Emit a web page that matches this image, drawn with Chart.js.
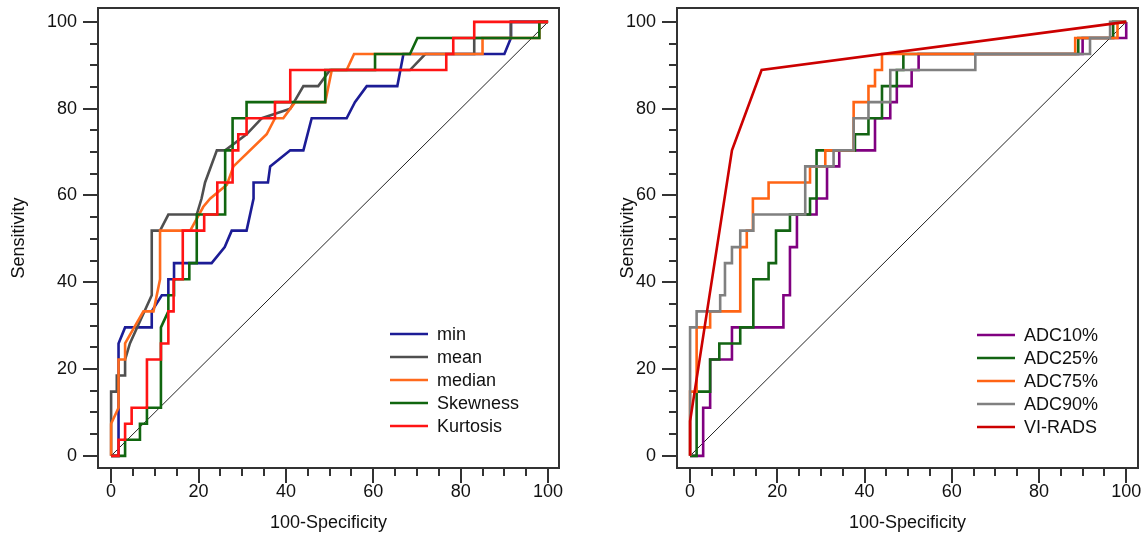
<!DOCTYPE html>
<html>
<head>
<meta charset="utf-8">
<script src="https://cdn.jsdelivr.net/npm/chart.js@4.4.1/dist/chart.umd.min.js"></script>
<style>
  body { margin: 0; background: #fff; }
  .panel { position: absolute; top: 0; width: 573px; height: 540px; }
</style>
</head>
<body>
<div class="panel" style="left:0"><canvas id="rocIzq" width="573" height="540"></canvas></div>
<div class="panel" style="left:573px"><canvas id="rocDer" width="573" height="540"></canvas></div>
<script>
// etiquetas de los ejes
const etiquetasEje = [0, 20, 40, 60, 80, 100];
const marcasMenores = [5, 10, 15, 25, 30, 35, 45, 50, 55, 65, 70, 75, 85, 90, 95];
const diagonal = [[0, 0], [100, 100]];

// panel izquierdo: [100-especificidad, sensibilidad]
const nombresIzq = ['min', 'mean', 'median', 'Skewness', 'Kurtosis'];
const coloresIzq = ['#1c1c96', '#4f4f4f', '#ff6a1c', '#10660f', '#ff1414'];
const rocMin = [[0,0],[1.7,0],[1.7,25.9],[3.2,29.6],[9.3,29.6],[9.3,33.3],[11.6,37],[13.1,37],[13.1,40.7],[14.4,40.7],[14.4,44.4],[23,44.4],[26,48.1],[27.6,51.9],[31,51.9],[32.6,59.3],[32.6,63],[35.9,63],[36.4,66.7],[41,70.4],[44,70.4],[45.9,77.8],[53.9,77.8],[55.8,81.5],[58.5,85.2],[65.5,85.2],[66.9,92.6],[90,92.6],[91.5,96.3],[91.5,100],[100,100]];
const rocMean = [[0,0],[0,14.8],[1.3,14.8],[1.3,18.5],[3.2,18.5],[3.2,22.2],[4.3,25.9],[9.3,37],[9.3,51.9],[11.2,51.9],[13.1,55.6],[19.6,55.6],[20.7,59.3],[21.5,63],[24.2,70.4],[26.1,70.4],[31,74.1],[34.5,77.8],[41,80],[42.5,82.6],[44,85.2],[47.4,85.2],[50.1,88.9],[68.4,88.9],[71.9,92.6],[83.1,92.6],[83.1,96.3],[91.5,96.3],[91.5,100],[100,100]];
const rocMedian = [[0,0],[0,7.4],[1.7,11.1],[1.7,22.2],[3.2,22.2],[3.2,25.9],[7.4,33.3],[9.7,33.3],[11.2,40.7],[11.2,51.9],[18.1,51.9],[21.1,57.4],[22.7,59.3],[26.5,62.5],[28,66.7],[35.6,74.1],[37.5,77.8],[39.4,77.8],[42.1,81.5],[49,81.5],[50.5,88.9],[53.9,88.9],[55.6,92.6],[85,92.6],[85,96.3],[98,96.3],[98,100],[100,100]];
const rocSkew = [[0,0],[3.2,0],[3.2,3.7],[6.6,3.7],[6.6,7.4],[8.2,7.4],[8.2,11.1],[11.4,11.1],[11.4,29.6],[13.1,33.3],[13.1,37],[14.4,37],[14.4,40.7],[17.9,40.7],[17.9,44.4],[19.6,44.4],[19.6,55.6],[26.1,55.6],[26.1,70.4],[27.8,70.4],[27.8,77.8],[31,77.8],[31,81.5],[49,81.5],[49,88.9],[60.4,88.9],[60.4,92.6],[68.4,92.6],[70.1,96.3],[98,96.3],[98,100],[100,100]];
const rocKurt = [[0,0],[1.7,0],[1.7,3.7],[3.2,3.7],[3.2,7.4],[4.7,7.4],[4.7,11.1],[8.2,11.1],[8.2,22.2],[11.4,22.2],[11.4,25.9],[13.1,25.9],[13.1,33.3],[14.3,33.3],[14.3,40.7],[16.4,40.7],[16.4,51.9],[21.3,51.9],[21.3,55.6],[24.3,55.6],[24.3,63],[27.8,63],[27.8,70.4],[29.1,70.4],[29.1,74.1],[31,74.1],[31,77.8],[37.5,77.8],[37.5,81.5],[41,81.5],[41,88.9],[76.7,88.9],[76.7,92.6],[78.3,92.6],[78.3,96.3],[83.1,96.3],[83.1,100],[100,100]];

// panel derecho
const nombresDer = ['ADC10%', 'ADC25%', 'ADC75%', 'ADC90%', 'VI-RADS'];
const coloresDer = ['#800080', '#136413', '#ff6414', '#808080', '#cc0000'];
const rocAdc10 = [[0,0],[3,0],[3,11.1],[4.6,11.1],[4.6,22.2],[9.6,22.2],[9.6,29.6],[21.4,29.6],[21.4,37],[22.9,37],[22.9,48.1],[24.5,48.1],[24.5,55.6],[29,55.6],[29,59.3],[31.4,59.3],[31.4,66.7],[34.2,66.7],[34.2,70.4],[42.4,70.4],[42.4,77.8],[45.9,77.8],[45.9,81.5],[47.4,81.5],[47.4,85.2],[50.8,85.2],[50.8,88.9],[52.4,88.9],[52.4,92.6],[90,92.6],[90,96.3],[100,96.3],[100,100]];
const rocAdc25 = [[0,0],[1.5,0],[1.5,14.8],[4.6,14.8],[4.6,22.2],[6.7,22.2],[6.7,25.9],[11.5,25.9],[11.5,29.6],[14.5,29.6],[14.5,40.7],[18,40.7],[18,44.4],[19.7,44.4],[19.7,51.9],[22.9,51.9],[22.9,55.6],[27.5,55.6],[27.5,59.3],[29,59.3],[29,70.4],[37.8,70.4],[37.8,74.1],[40.9,74.1],[40.9,77.8],[44,77.8],[44,85.2],[47.4,85.2],[47.4,88.9],[48.9,88.9],[48.9,92.6],[89,92.6],[89,96.3],[97,96.3],[97,100],[100,100]];
const rocAdc75 = [[0,0],[0,14.8],[1.5,14.8],[1.5,29.6],[4.6,29.6],[4.6,33.3],[11.5,33.3],[11.5,48.1],[13,48.1],[13,51.9],[14.4,51.9],[14.4,59.3],[18,59.3],[18,63],[27.5,63],[27.5,66.7],[31,66.7],[31,70.4],[37.5,70.4],[37.5,81.5],[40.9,81.5],[40.9,85.2],[42.4,85.2],[42.4,88.9],[44,88.9],[44,92.6],[88.3,92.6],[88.3,96.3],[98,96.3],[98,100],[100,100]];
const rocAdc90 = [[0,0],[0,29.6],[1.5,29.6],[1.5,33.3],[6.9,33.3],[6.9,37],[8,37],[8,44.4],[9.6,44.4],[9.6,48.1],[11.5,48.1],[11.5,51.9],[14.5,51.9],[14.5,55.6],[26.4,55.6],[26.4,66.7],[32.9,66.7],[32.9,70.4],[37.5,70.4],[37.5,77.8],[40.9,77.8],[40.9,81.5],[45.9,81.5],[45.9,88.9],[65.4,88.9],[65.4,92.6],[91.7,92.6],[91.7,96.3],[96.3,96.3],[96.3,100],[100,100]];
const rocViRads = [[0,0],[0,8],[9.6,70.4],[16.4,88.9],[100,100]];

const fuente = '"Liberation Sans", Arial, sans-serif';

// marco, marcas de los ejes y leyenda
const marcoPlugin = {
  id: 'marco',
  afterDraw(chart, args, opts) {
    const { ctx, chartArea: a, scales: { x, y } } = chart;
    ctx.save();
    ctx.strokeStyle = '#333';
    ctx.lineWidth = 2;
    ctx.strokeRect(a.left, a.top, a.right - a.left, a.bottom - a.top);
    const todas = etiquetasEje.concat(marcasMenores);
    ctx.beginPath();
    todas.forEach(v => {
      const largo = etiquetasEje.includes(v) ? 14 : 7;
      const px = Math.round(x.getPixelForValue(v));
      ctx.moveTo(px, a.bottom + 1);
      ctx.lineTo(px, a.bottom + 1 + largo);
      const py = Math.round(y.getPixelForValue(v));
      ctx.moveTo(a.left - 1, py);
      ctx.lineTo(a.left - 1 - largo, py);
    });
    ctx.stroke();

    // leyenda
    ctx.font = '18px ' + fuente;
    ctx.textBaseline = 'middle';
    ctx.fillStyle = '#111';
    opts.nombres.forEach((n, i) => {
      const yy = opts.y + i * 23;
      ctx.strokeStyle = opts.colores[i];
      ctx.lineWidth = 2.5;
      ctx.beginPath();
      ctx.moveTo(opts.x, yy);
      ctx.lineTo(opts.x + 38, yy);
      ctx.stroke();
      ctx.fillText(n, opts.x + 47, yy + 1);
    });
    ctx.restore();
  }
};

function crearGrafico(id, series, nombres, colores, medidas) {
  const ctx = document.getElementById(id).getContext('2d');
  const datasets = series.map((s, i) => ({
    label: nombres[i],
    data: s.map(p => ({ x: p[0], y: p[1] })),
    borderColor: colores[i],
    borderWidth: 2.6,
    pointRadius: 0,
    tension: 0,
    order: series.length - i
  }));
  datasets.push({
    label: 'ref',
    data: diagonal.map(p => ({ x: p[0], y: p[1] })),
    borderColor: '#222',
    borderWidth: 1,
    pointRadius: 0,
    order: 99
  });

  const fijarTicks = s => { s.ticks = etiquetasEje.map(v => ({ value: v })); };

  return new Chart(ctx, {
    type: 'line',
    data: { datasets },
    options: {
      responsive: false,
      animation: false,
      layout: { padding: { top: 8, right: medidas.derecha, left: medidas.izquierda, bottom: 0 } },
      plugins: {
        legend: { display: false },
        tooltip: { enabled: false },
        marco: { nombres, colores, x: medidas.leyX, y: medidas.leyY }
      },
      scales: {
        x: {
          type: 'linear',
          min: -3,
          max: medidas.xMax,
          afterBuildTicks: fijarTicks,
          afterFit: s => { s.height = 72; s.paddingLeft = 0; s.paddingRight = 0; },
          grid: { display: false, drawTicks: false },
          border: { display: false },
          ticks: { padding: 13, color: '#111', font: { family: fuente, size: 18 }, maxRotation: 0 },
          title: { display: true, text: '100-Specificity', color: '#111', padding: { top: 0, bottom: 6 }, font: { family: fuente, size: 18 } }
        },
        y: {
          type: 'linear',
          min: -2.8,
          max: 103.2,
          afterBuildTicks: fijarTicks,
          afterFit: s => { s.width = medidas.anchoY; s.paddingTop = 0; s.paddingBottom = 0; },
          grid: { display: false, drawTicks: false },
          border: { display: false },
          ticks: { padding: 21, color: '#111', font: { family: fuente, size: 18 } },
          title: { display: true, text: 'Sensitivity', color: '#111', padding: { top: 8, bottom: 0 }, font: { family: fuente, size: 18 } }
        }
      }
    },
    plugins: [marcoPlugin]
  });
}

crearGrafico('rocIzq', [rocMin, rocMean, rocMedian, rocSkew, rocKurt], nombresIzq, coloresIzq,
  { izquierda: 0, anchoY: 98, derecha: 14, xMax: 102.5, leyX: 390, leyY: 334 });
crearGrafico('rocDer', [rocAdc10, rocAdc25, rocAdc75, rocAdc90, rocViRads], nombresDer, coloresDer,
  { izquierda: 36, anchoY: 68, derecha: 8, xMax: 102.7, leyX: 404, leyY: 335 });
</script>
</body>
</html>
